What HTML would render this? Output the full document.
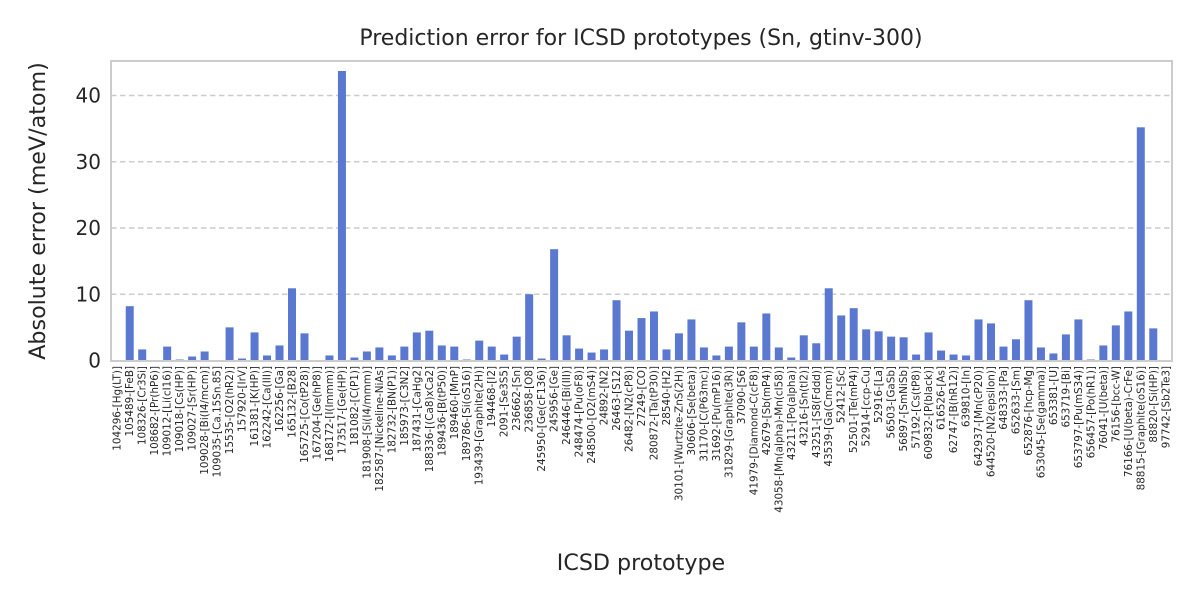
<!DOCTYPE html>
<html><head><meta charset="utf-8"><style>
body{margin:0;background:#fff;}
svg text{font-family:"DejaVu Sans","Liberation Sans",sans-serif;fill:#262626;}
</style></head><body>
<svg id="chart" width="1200" height="600" xmlns="http://www.w3.org/2000/svg">
<text x="641" y="45" font-size="22" text-anchor="middle">Prediction error for ICSD prototypes (Sn, gtinv-300)</text>
<g id="grid"></g>
<g id="bars"></g>
<rect x="111" y="61" width="1061" height="300" fill="none" stroke="#cccccc" stroke-width="2"/>
<g id="yt"></g>
<g id="xt"></g>
<text transform="translate(45,211) rotate(-90)" font-size="22.2" text-anchor="middle">Absolute error (meV/atom)</text>
<text x="641" y="570" font-size="22.2" text-anchor="middle">ICSD prototype</text>
</svg>
<script>
const categories=["104296-[Hg(LT)]","105489-[FeB]","108326-[Cr3Si]","108682-[Pr(hP6)]","109012-[Li(cI16)]","109018-[Cs(HP)]","109027-[Sr(HP)]","109028-[Bi(I4/mcm)]","109035-[Ca.15Sn.85]","15535-[O2(hR2)]","157920-[IrV]","161381-[K(HP)]","162242-[Ca(III)]","162256-[Ga]","165132-[B28]","165725-[Co(tP28)]","167204-[Ge(hP8)]","168172-[I(Immm)]","173517-[Ge(HP)]","181082-[C(P1)]","181908-[Si(I4/mmm)]","182587-[Nickeline-NiAs]","182732-[BN(P1)]","185973-[C3N2]","187431-[CaHg2]","188336-[(Ca8)xCa2]","189436-[B(tP50)]","189460-[MnP]","189786-[Si(oS16)]","193439-[Graphite(2H)]","194468-[I2]","2091-[Se3S5]","236662-[Sn]","236858-[O8]","245950-[Ge(cF136)]","245956-[Ge]","246446-[Bi(III)]","248474-[Pu(oF8)]","248500-[O2(mS4)]","24892-[N2]","26463-[S12]","26482-[N2(cP8)]","27249-[CO]","280872-[Ta(tP30)]","28540-[H2]","30101-[Wurtzite-ZnS(2H)]","30606-[Se(beta)]","31170-[C(P63mc)]","31692-[Pu(mP16)]","31829-[Graphite(3R)]","37090-[S6]","41979-[Diamond-C(cF8)]","42679-[Sb(mP4)]","43058-[Mn(alpha)-Mn(cI58)]","43211-[Po(alpha)]","43216-[Sn(tI2)]","43251-[S8(Fddd)]","43539-[Ga(Cmcm)]","52412-[Sc]","52501-[Te(mP4)]","52914-[ccp-Cu]","52916-[La]","56503-[GaSb]","56897-[SmNiSb]","57192-[Cs(tP8)]","609832-[P(black)]","616526-[As]","62747-[B(hR12)]","639810-[In]","642937-[Mn(cP20)]","644520-[N2(epsilon)]","648333-[Pa]","652633-[Sm]","652876-[hcp-Mg]","653045-[Se(gamma)]","653381-[U]","653719-[Bi]","653797-[Pu(mS34)]","656457-[Po(hR1)]","76041-[U(beta)]","76156-[bcc-W]","76166-[U(beta)-CrFe]","88815-[Graphite(oS16)]","88820-[Si(HP)]","97742-[Sb2Te3]"];
const errors=[0,8.2,1.67,0,2.1,0.15,0.6,1.36,0,5.0,0.3,4.24,0.76,2.27,10.9,4.1,0,0.76,43.7,0.45,1.36,1.97,0.76,2.1,4.24,4.5,2.27,2.1,0.15,3.0,2.1,0.9,3.6,10.0,0.3,16.8,3.8,1.8,1.2,1.67,9.1,4.5,6.4,7.4,1.67,4.1,6.2,1.97,0.76,2.1,5.76,2.1,7.1,1.97,0.45,3.8,2.6,10.9,6.8,7.9,4.7,4.4,3.6,3.5,0.9,4.24,1.5,0.9,0.76,6.2,5.6,2.1,3.2,9.1,1.97,1.06,3.94,6.2,0.15,2.27,5.3,7.4,35.2,4.85,0];
const yTicks=[0,10,20,30,40];
const NS="http://www.w3.org/2000/svg";
const L=111,R=1172,Y0=360.5,PX=6.625;
const step=(R-L)/categories.length;
const xs=i=>L+step*(i+0.5);
const ys=v=>Y0-v*PX;
function mk(t,a,p){const e=document.createElementNS(NS,t);for(const k in a)e.setAttribute(k,a[k]);p.appendChild(e);return e;}
const grid=document.getElementById('grid'),bars=document.getElementById('bars'),yt=document.getElementById('yt'),xt=document.getElementById('xt');
yTicks.forEach(v=>{
  if(v>0){const g=mk('line',{x1:L,x2:R,y1:ys(v),y2:ys(v),stroke:'#cccccc','stroke-width':1.5,'stroke-dasharray':'5.5,3.5'},grid);
  
  }
  const t=mk('text',{x:L-10,y:ys(v)+7,'font-size':20,'text-anchor':'end'},yt);t.textContent=v;
  
  
});
errors.forEach((v,i)=>{
  const w=step*0.64;
  const r=mk('rect',{x:xs(i)-w/2,y:ys(v),width:w,height:Math.max(0,v*PX),fill:'#5a78d0'},bars);
  
  
});
categories.forEach((c,i)=>{
  const t=mk('text',{transform:`translate(${xs(i)+3.5},366) rotate(-90)`,'font-size':10.4,'text-anchor':'end'},xt);
  t.textContent=c;
  
  
});
</script>
</body></html>
